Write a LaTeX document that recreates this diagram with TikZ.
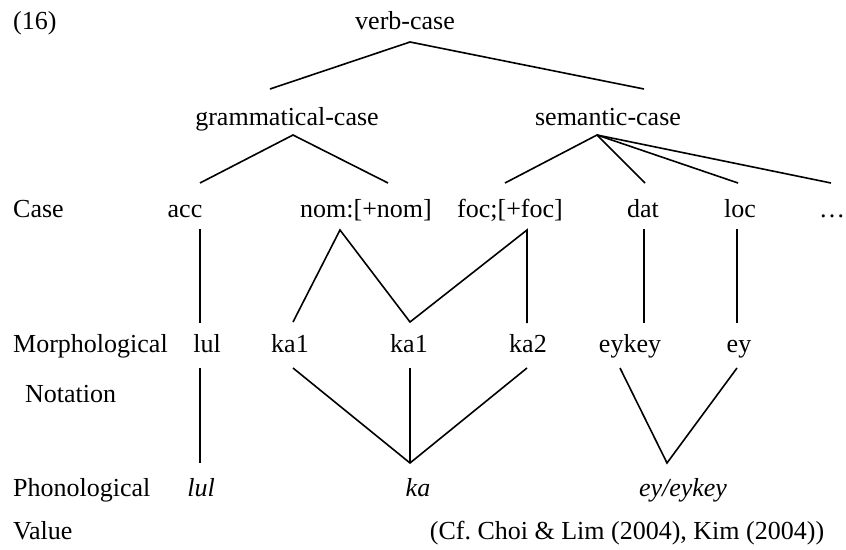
\documentclass[tikz,border=0pt]{standalone}
\usepackage{fontspec}
\setmainfont{Liberation Serif}
\frenchspacing
\begin{document}
\begin{tikzpicture}[x=1pt,y=-1pt,
  lbl/.style={inner sep=0pt,anchor=base,font=\fontsize{26}{30}\selectfont},
  lft/.style={lbl,anchor=base west},
  edge/.style={line width=1.6pt,line cap=butt}]
\useasboundingbox (0,0) rectangle (846,549);
% texts
\node[lft] (n16) at (13,29) {(16)};
\node[lbl] (vc) at (405,29) {verb-case};
\node[lbl] (gc) at (287,125) {grammatical-case};
\node[lbl] (sc) at (608,125) {semantic-case};
\node[lft] (lcase) at (13,217) {Case};
\node[lbl] (acc) at (185,217) {acc};
\node[lbl] (nom) at (366,217) {nom:[+nom]};
\node[lbl] (foc) at (510,217) {foc;[+foc]};
\node[lbl] (dat) at (643,217) {dat};
\node[lbl] (loc) at (740,217) {loc};
\node[lbl] (etc) at (832,217) {…};
\node[lft] (lmorph) at (13,352) {Morphological};
\node[lft] (lnot) at (25,402) {Notation};
\node[lbl] (mlul) at (207,352) {lul};
\node[lbl] (mkaA) at (290,352) {ka1};
\node[lbl] (mkaB) at (409,352) {ka1};
\node[lbl] (mkaC) at (528,352) {ka2};
\node[lbl] (meyk) at (630,352) {eykey};
\node[lbl] (mey) at (739,352) {ey};
\node[lft] (lphon) at (13,496) {Phonological};
\node[lft] (lval) at (13,539) {Value};
\node[lbl] (plul) at (201,496) {\itshape lul};
\node[lbl] (pka) at (418,496) {\itshape ka};
\node[lbl] (pey) at (683,496) {\itshape ey/eykey};
\node[lbl] (cite) at (627,539) {(Cf.\ Choi \& Lim (2004), Kim (2004))};
% connector end points
\coordinate (vcB) at (410,42);
\coordinate (gcT) at (270,89);
\coordinate (scT) at (644,89);
\coordinate (gcB) at (293,135);
\coordinate (scB) at (597,135);
\coordinate (accT) at (200,183);
\coordinate (nomT) at (388,183);
\coordinate (focT) at (505,183);
\coordinate (datT) at (645,183);
\coordinate (locT) at (738,183);
\coordinate (etcT) at (831,183);
\coordinate (accB) at (200,229);
\coordinate (nomB) at (340,230);
\coordinate (focB) at (527,230);
\coordinate (datB) at (644,229);
\coordinate (locB) at (737,229);
\coordinate (mlulT) at (200,323);
\coordinate (mkaAT) at (293,322);
\coordinate (mkaBT) at (410,322);
\coordinate (mkaCT) at (527,323);
\coordinate (meykT) at (644,323);
\coordinate (meyT) at (737,323);
\coordinate (mlulB) at (200,368);
\coordinate (mkaAB) at (293,368);
\coordinate (mkaBB) at (410,368);
\coordinate (mkaCB) at (527,368);
\coordinate (meykB) at (620,368);
\coordinate (meyB) at (737,368);
\coordinate (plulT) at (200,463);
\coordinate (pkaT) at (410,463);
\coordinate (peyT) at (667,463);
% connectors
\draw[edge] (gcT) -- (vcB) -- (scT);
\draw[edge] (accT) -- (gcB) -- (nomT);
\draw[edge] (focT) -- (scB) -- (datT);
\draw[edge] (scB) -- (locT);
\draw[edge] (scB) -- (etcT);
\draw[edge] (accB) -- (mlulT);
\draw[edge] (mkaAT) -- (nomB) -- (mkaBT) -- (focB) -- (mkaCT);
\draw[edge] (datB) -- (meykT);
\draw[edge] (locB) -- (meyT);
\draw[edge] (mlulB) -- (plulT);
\draw[edge] (mkaAB) -- (pkaT) -- (mkaCB);
\draw[edge] (mkaBB) -- (pkaT);
\draw[edge] (meykB) -- (peyT) -- (meyB);
\end{tikzpicture}
\end{document}
